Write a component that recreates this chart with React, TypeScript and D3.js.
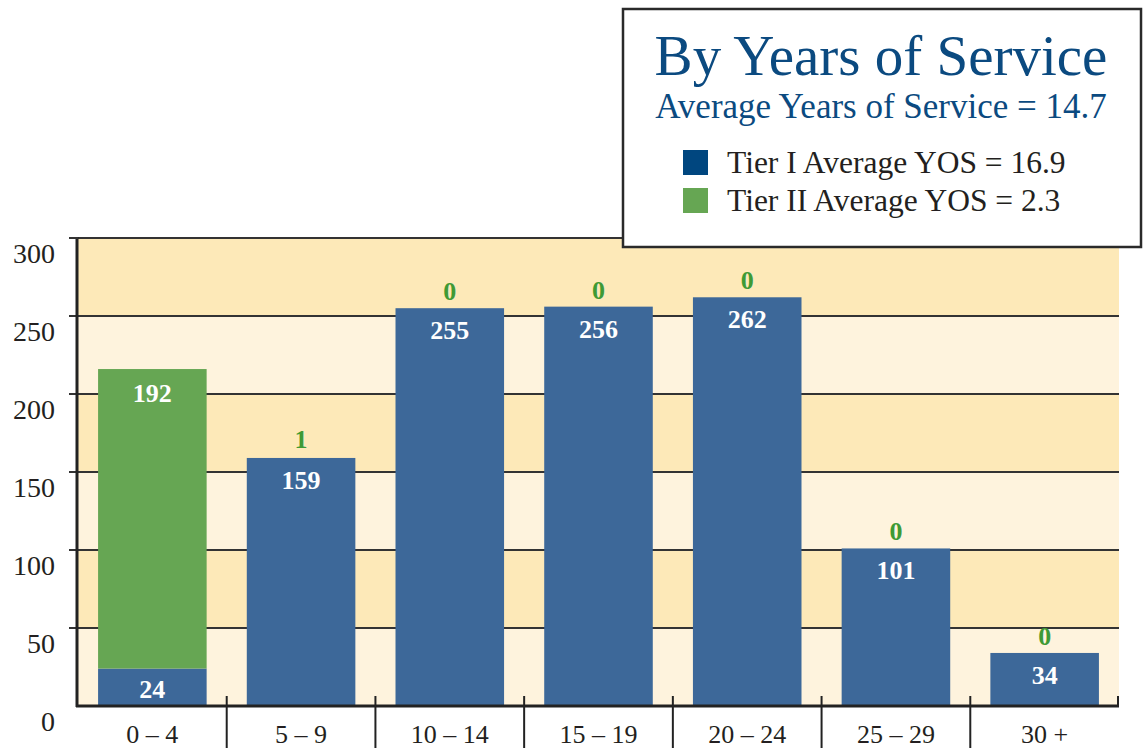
import React from 'react';
import * as d3 from 'd3';

const categories = ['0 – 4', '5 – 9', '10 – 14', '15 – 19', '20 – 24', '25 – 29', '30 +'];
const tier1 = [24, 159, 255, 256, 262, 101, 34];
const tier2 = [192, 1, 0, 0, 0, 0, 0];
const yTicks = [0, 50, 100, 150, 200, 250, 300];

const legendItems = [
  { label: 'Tier I Average YOS = 16.9', color: '#00467f' },
  { label: 'Tier II Average YOS = 2.3', color: '#66a653' },
];

const W = 1144;
const H = 748;
const FONT = '"Liberation Serif", "Times New Roman", serif';
const BLUE = '#3d6899';
const GREEN = '#66a653';

const App: React.FC = () => {
  const left = 78;
  const right = 1119;
  const top = 238;
  const bottom = 706;

  const x = d3.scaleBand<string>().domain(categories).range([left, right]).padding(0);
  const y = d3.scaleLinear().domain([0, 300]).range([bottom, top]);
  const bw = x.bandwidth();
  const barW = bw * 0.73;
  const barX = (c: string) => (x(c) as number) + (bw - barW) / 2;

  const bands = d3.pairs(yTicks);

  return (
    <svg width={W} height={H} style={{ position: 'absolute', left: 0, top: 0, background: '#fff' }}>
      {/* background stripes */}
      {bands.map(([a, b], i) => (
        <rect
          key={'band' + i}
          x={left}
          y={y(b)}
          width={right - left}
          height={y(a) - y(b)}
          fill={i % 2 === 0 ? '#fef3dd' : '#fde9b8'}
        />
      ))}
      {/* gridlines with left tick */}
      {yTicks.slice(1).map((t) => (
        <line key={'g' + t} x1={69} x2={right} y1={y(t)} y2={y(t)} stroke="#333" strokeWidth={2} />
      ))}
      {/* bars */}
      {categories.map((c, i) => {
        const y1 = y(tier1[i]);
        const y2 = y(tier1[i] + tier2[i]);
        return (
          <g key={'bar' + c}>
            <rect x={barX(c)} y={y1} width={barW} height={bottom - y1} fill={BLUE} />
            {y1 - y2 >= 3 && (
              <rect x={barX(c)} y={y2} width={barW} height={y1 - y2} fill={GREEN} />
            )}
          </g>
        );
      })}
      {/* bar labels */}
      {categories.map((c, i) => {
        const cx = (x(c) as number) + bw / 2;
        const y1 = y(tier1[i]);
        const y2 = y(tier1[i] + tier2[i]);
        const big = tier2[i] > 20;
        return (
          <g key={'lab' + c} fontFamily={FONT} fontWeight="bold" fontSize={26} textAnchor="middle">
            <text x={cx} y={Math.min(y1 + 31, bottom - 8)} fill="#fff">
              {tier1[i]}
            </text>
            {big ? (
              <text x={cx} y={y2 + 33} fill="#fff">
                {tier2[i]}
              </text>
            ) : (
              <text x={cx} y={y2 - 8} fill="#3f9a35">
                {tier2[i]}
              </text>
            )}
          </g>
        );
      })}
      {/* axes */}
      <line x1={left - 1} x2={left - 1} y1={top - 1} y2={bottom + 1} stroke="#222" strokeWidth={3} />
      <line x1={left - 2} x2={right} y1={bottom} y2={bottom} stroke="#222" strokeWidth={3} />
      <line x1={69} x2={left} y1={top} y2={top} stroke="#333" strokeWidth={2} />
      {categories.slice(1).map((c) => (
        <line key={'sep' + c} x1={x(c)} x2={x(c)} y1={696} y2={H} stroke="#222" strokeWidth={2} />
      ))}
      <line x1={right - 1} x2={right - 1} y1={696} y2={bottom} stroke="#222" strokeWidth={2} />
      {/* y tick labels */}
      {yTicks.map((t) => (
        <text
          key={'yt' + t}
          x={55}
          y={y(t) + 25}
          textAnchor="end"
          fontFamily={FONT}
          fontSize={28}
          fill="#231f20"
        >
          {t}
        </text>
      ))}
      {/* x labels */}
      {categories.map((c) => (
        <text
          key={'xt' + c}
          x={(x(c) as number) + bw / 2}
          y={743}
          textAnchor="middle"
          fontFamily={FONT}
          fontSize={26}
          fill="#231f20"
        >
          {c}
        </text>
      ))}
      {/* legend box */}
      <rect x={623} y={9} width={518} height={238} fill="#fff" stroke="#2a2a2a" strokeWidth={2.5} />
      <text x={881} y={75} textAnchor="middle" fontFamily={FONT} fontSize={57} fill="#0b4a80">
        By Years of Service
      </text>
      <text x={881} y={118} textAnchor="middle" fontFamily={FONT} fontSize={35} fill="#0b4a80">
        Average Years of Service = 14.7
      </text>
      {legendItems.map((d, i) => (
        <g key={d.label} transform={`translate(683, ${150 + i * 38})`}>
          <rect x={0} y={0} width={25} height={25} fill={d.color} />
          <text x={44} y={23} fontFamily={FONT} fontSize={31.5} fill="#231f20">
            {d.label}
          </text>
        </g>
      ))}
    </svg>
  );
};

export default App;
